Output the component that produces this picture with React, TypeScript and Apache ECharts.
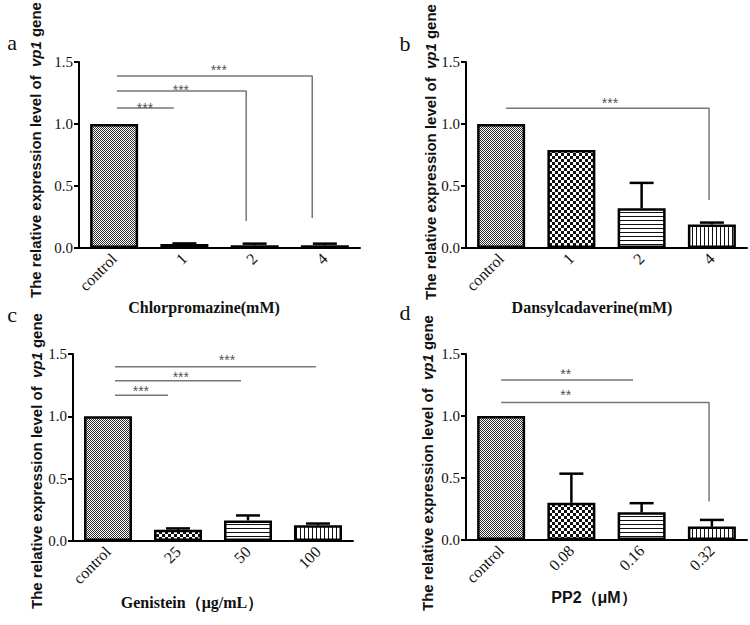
import React, { useEffect, useRef } from "react";
import * as echarts from "echarts";

const SERIF = "'Liberation Serif', 'Times New Roman', serif";
const SANS = "'Liberation Sans', Arial, sans-serif";

// Panel a: Chlorpromazine
const catsA = ["control", "1", "2", "4"];
const valsA = [1.0, 0.033, 0.022, 0.022];
const errsA = [0, 0.004, 0.013, 0.013];
const brX0A = [0.04, 0.04, 0.04];
const brX1A = [0.85, 1.88, 2.82];
const brYA = [1.13, 1.266, 1.387];
const brDropA = [null, 0.218, 0.242];
const starXA = [0.44, 0.95, 1.49];
const starYA = [1.157, 1.298, 1.456];
const starTxtA = ["***", "***", "***"];

// Panel b: Dansylcadaverine
const catsB = ["control", "1", "2", "4"];
const valsB = [1.0, 0.79, 0.32, 0.19];
const errsB = [0, 0, 0.205, 0.015];
const brX0B = [0.07];
const brX1B = [2.96];
const brYB = [1.127];
const brDropB = [0.387];
const starXB = [1.55];
const starYB = [1.194];
const starTxtB = ["***"];

// Panel c: Genistein
const catsC = ["control", "25", "50", "100"];
const valsC = [1.0, 0.09, 0.165, 0.127];
const errsC = [0, 0.011, 0.04, 0.013];
const brX0C = [0.1, 0.1, 0.1];
const brX1C = [0.857, 1.9, 2.97];
const brYC = [1.169, 1.285, 1.398];
const brDropC = [null, null, null];
const starXC = [0.47, 1.04, 1.7];
const starYC = [1.226, 1.339, 1.476];
const starTxtC = ["***", "***", "***"];

// Panel d: PP2
const catsD = ["control", "0.08", "0.16", "0.32"];
const valsD = [1.0, 0.3, 0.223, 0.108];
const errsD = [0, 0.235, 0.074, 0.054];
const brX0D = [0.0, 0.0];
const brX1D = [1.877, 2.96];
const brYD = [1.29, 1.108];
const brDropD = [null, 0.31];
const starXD = [0.92, 0.92];
const starYD = [1.362, 1.192];
const starTxtD = ["**", "**"];

const yTicks = [0, 0.5, 1.0, 1.5];

const axisTitles = ["Chlorpromazine(mM)", "Dansylcadaverine(mM)", "Genistein（μg/mL）", "PP2（μM）"];
const panelLetters = ["a", "b", "c", "d"];

function makePattern(kind: string) {
  const c = document.createElement("canvas");
  let w = 2, h = 2;
  if (kind === "fine") { w = 2; h = 2; }
  if (kind === "coarse") { w = 6; h = 6; }
  if (kind === "hline") { w = 4; h = 4; }
  if (kind === "vline") { w = 4; h = 4; }
  c.width = w; c.height = h;
  const ctx = c.getContext("2d")!;
  ctx.fillStyle = "#fff";
  ctx.fillRect(0, 0, w, h);
  ctx.fillStyle = "#111";
  if (kind === "fine") {
    ctx.fillStyle = "#333";
    ctx.fillRect(0, 0, 1, 1);
    ctx.fillRect(1, 1, 1, 1);
  } else if (kind === "coarse") {
    ctx.fillRect(0, 0, 3, 3);
    ctx.fillRect(3, 3, 3, 3);
  } else if (kind === "hline") {
    ctx.fillRect(0, 0, w, 1);
  } else if (kind === "vline") {
    ctx.fillRect(0, 0, 1, h);
  }
  return { image: c, repeat: "repeat", imageWidth: w, imageHeight: h };
}

export default function App() {
  const ref = useRef<HTMLDivElement>(null);
  useEffect(() => {
    if (!ref.current) return;
    const chart = echarts.init(ref.current, null, { renderer: "svg" });
    const patterns = [makePattern("fine"), makePattern("coarse"), makePattern("hline"), makePattern("vline")];

    const panels = [
      { cats: catsA, vals: valsA, errs: errsA, x0: brX0A, x1: brX1A, y: brYA, drop: brDropA, sx: starXA, sy: starYA, st: starTxtA },
      { cats: catsB, vals: valsB, errs: errsB, x0: brX0B, x1: brX1B, y: brYB, drop: brDropB, sx: starXB, sy: starYB, st: starTxtB },
      { cats: catsC, vals: valsC, errs: errsC, x0: brX0C, x1: brX1C, y: brYC, drop: brDropC, sx: starXC, sy: starYC, st: starTxtC },
      { cats: catsD, vals: valsD, errs: errsD, x0: brX0D, x1: brX1D, y: brYD, drop: brDropD, sx: starXD, sy: starYD, st: starTxtD },
    ];

    const grids = [
      { left: 79, top: 62, width: 281, height: 186 },
      { left: 466, top: 62, width: 281, height: 186 },
      { left: 73, top: 354, width: 280, height: 187 },
      { left: 466, top: 354, width: 281, height: 186 },
    ];

    const xAxes: any[] = [];
    const yAxes: any[] = [];
    const series: any[] = [];

    panels.forEach((p, gi) => {
      xAxes.push({
        type: "category",
        gridIndex: gi,
        data: p.cats,
        axisLine: { onZero: false, lineStyle: { color: "#000", width: 2 } },
        axisTick: { alignWithLabel: true, length: 5, lineStyle: { color: "#000", width: 2 } },
        axisLabel: { rotate: 45, fontFamily: SERIF, fontSize: 16, color: "#111", margin: 8 },
      });
      yAxes.push({
        type: "value",
        gridIndex: gi,
        min: yTicks[0],
        max: yTicks[yTicks.length - 1],
        interval: 0.5,
        axisLine: { show: true, onZero: false, lineStyle: { color: "#000", width: 2 } },
        axisTick: { show: true, length: 5, lineStyle: { color: "#000", width: 2 } },
        axisLabel: { formatter: (v: number) => v.toFixed(1), fontFamily: SERIF, fontSize: 15, color: "#111", margin: 6 },
        splitLine: { show: false },
      });
    });
    panels.forEach((p, gi) => {
      xAxes.push({ type: "value", gridIndex: gi, min: -0.5, max: 3.5, show: false, axisLine: { onZero: false } });
    });

    panels.forEach((p, gi) => {
      series.push({
        type: "bar",
        xAxisIndex: gi,
        yAxisIndex: gi,
        barWidth: 48,
        z: 2,
        data: p.vals.map((v, i) => ({
          value: v,
          itemStyle: { color: patterns[i], borderColor: "#000", borderWidth: 2.5 },
        })),
      });
      series.push({
        type: "custom",
        xAxisIndex: gi,
        yAxisIndex: gi,
        z: 3,
        data: p.vals.map((v, i) => [i, v, p.errs[i]]),
        renderItem: (params: any, api: any) => {
          const i = api.value(0);
          const v = api.value(1);
          const e = api.value(2);
          if (!e) return { type: "group", children: [] };
          const b = api.coord([i, v]);
          const t = api.coord([i, v + e]);
          const st = { stroke: "#000", lineWidth: 2.5 };
          return {
            type: "group",
            children: [
              { type: "line", shape: { x1: b[0], y1: b[1], x2: t[0], y2: t[1] }, style: st },
              { type: "line", shape: { x1: t[0] - 12, y1: t[1], x2: t[0] + 12, y2: t[1] }, style: st },
            ],
          };
        },
      });
      p.x0.forEach((x0, k) => {
        const pts: number[][] = [[x0, p.y[k]], [p.x1[k], p.y[k]]];
        if (p.drop[k] != null) pts.push([p.x1[k], p.drop[k] as number]);
        series.push({
          type: "line",
          xAxisIndex: 4 + gi,
          yAxisIndex: gi,
          data: pts,
          symbol: "none",
          silent: true,
          z: 4,
          lineStyle: { color: "#777", width: 1.5 },
        });
      });
      series.push({
        type: "scatter",
        xAxisIndex: 4 + gi,
        yAxisIndex: gi,
        symbolSize: 1,
        itemStyle: { color: "rgba(0,0,0,0)" },
        silent: true,
        z: 5,
        data: p.sx.map((x, k) => [x, p.sy[k]]),
        label: {
          show: true,
          position: "inside",
          offset: [0, 3],
          formatter: (prm: any) => p.st[prm.dataIndex],
          fontFamily: SANS,
          fontSize: 14,
          color: "#222",
        },
      });
    });

    const yTitlePos = [[35, 150], [430, 152], [36, 461], [427, 463]];
    const xTitlePos = [[204, 307], [592, 307], [192, 602], [594, 597]];
    const letterPos = [[12, 42], [405, 43], [12, 314], [405, 312]];

    const graphic: any[] = [];
    yTitlePos.forEach(([x, y]) => {
      graphic.push({
        type: "text",
        x, y,
        rotation: Math.PI / 2,
        style: {
          text: "The relative expression level of  {i|vp1} gene",
          fontFamily: SANS,
          fontSize: 15,
          fontWeight: "bold",
          fill: "#111",
          align: "center",
          verticalAlign: "middle",
          rich: { i: { fontFamily: SANS, fontSize: 15, fontWeight: "bold", fontStyle: "italic", fill: "#111" } },
        },
      });
    });
    xTitlePos.forEach(([x, y], k) => {
      graphic.push({
        type: "text",
        x, y,
        style: {
          text: axisTitles[k],
          fontFamily: k === 3 ? SANS : SERIF,
          fontSize: 16,
          fontWeight: "bold",
          fill: "#111",
          align: "center",
          verticalAlign: "middle",
        },
      });
    });
    letterPos.forEach(([x, y], k) => {
      graphic.push({
        type: "text",
        x, y,
        style: {
          text: panelLetters[k],
          fontFamily: SERIF,
          fontSize: 22,
          fill: "#111",
          align: "center",
          verticalAlign: "middle",
        },
      });
    });

    chart.setOption({
      animation: false,
      backgroundColor: "#fff",
      grid: grids,
      xAxis: xAxes,
      yAxis: yAxes,
      series,
      graphic,
    });
    return () => chart.dispose();
  }, []);
  return <div ref={ref} style={{ position: "fixed", left: 0, top: 0, width: 750, height: 625, background: "#fff" }} />;
}
